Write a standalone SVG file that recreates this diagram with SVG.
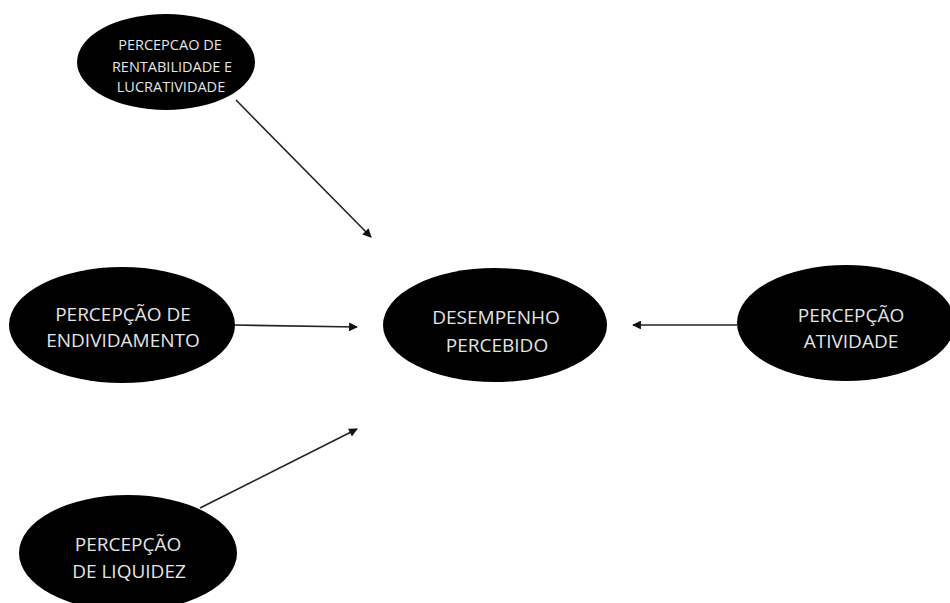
<svg xmlns="http://www.w3.org/2000/svg" width="950" height="603" viewBox="0 0 950 603">
<defs>
<style>
.node{fill:#000;}
.lbl{font-family:"Open Sans","Liberation Sans",sans-serif;fill:#e4e4e4;text-anchor:middle;font-size:19px;}
.sm{font-size:14.5px;}
.edge{stroke:#222;stroke-width:1.6;fill:none;marker-end:url(#ah);}
</style>
<marker id="ah" viewBox="0 0 10 10" refX="9" refY="5" markerWidth="5.5" markerHeight="5.5" orient="auto" markerUnits="strokeWidth">
<path d="M0,0 L10,5 L0,10 z" fill="#111"/>
</marker>
</defs>
<rect width="950" height="603" fill="#fff"/>
<g id="connectors">
<line class="edge" x1="236" y1="100" x2="371" y2="237"/>
<line class="edge" x1="234" y1="325" x2="357" y2="327"/>
<line class="edge" x1="737" y1="325" x2="633" y2="325"/>
<line class="edge" x1="200" y1="508" x2="357" y2="429"/>
</g>
<g id="rentabilidade">
<ellipse class="node" cx="166" cy="62" rx="89" ry="48"/>
<text class="lbl sm" x="170" y="50">PERCEPCAO DE</text>
<text class="lbl sm" x="172" y="72">RENTABILIDADE E</text>
<text class="lbl sm" x="171" y="92">LUCRATIVIDADE</text>
</g>
<g id="endividamento">
<ellipse class="node" cx="122" cy="325" rx="113" ry="58"/>
<text class="lbl" x="123" y="321">PERCEPÇÃO DE</text>
<text class="lbl" x="123" y="347">ENDIVIDAMENTO</text>
</g>
<g id="desempenho">
<ellipse class="node" cx="495" cy="325" rx="112" ry="57"/>
<text class="lbl" x="496" y="324">DESEMPENHO</text>
<text class="lbl" x="497" y="352">PERCEBIDO</text>
</g>
<g id="atividade">
<ellipse class="node" cx="846" cy="323" rx="109" ry="58"/>
<text class="lbl" x="851" y="322">PERCEPÇÃO</text>
<text class="lbl" x="851" y="348">ATIVIDADE</text>
</g>
<g id="liquidez">
<ellipse class="node" cx="128" cy="553" rx="109" ry="58"/>
<text class="lbl" x="128" y="551">PERCEPÇÃO</text>
<text class="lbl" x="129" y="578">DE LIQUIDEZ</text>
</g>
</svg>
